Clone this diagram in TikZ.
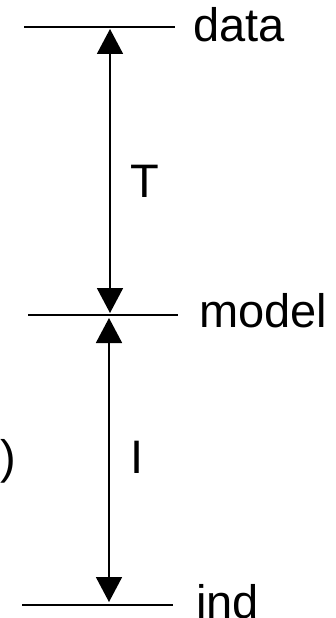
\documentclass[tikz,border=0pt]{standalone}
\usepackage{fontspec}
\setmainfont{Liberation Sans}
\usetikzlibrary{arrows.meta}
\begin{document}
\begin{tikzpicture}[x=1pt,y=-1pt,
  level/.style={line width=1.5pt},
  dbl/.style={line width=1.8pt,{Triangle[width=26pt,length=25pt]}-{Triangle[width=26pt,length=25pt]}},
  lbl/.style={font=\fontsize{47}{56}\selectfont,inner sep=0pt,anchor=base west}]
\useasboundingbox (0,0) rectangle (335,618);
% level lines
\coordinate (d1) at (24,27); \coordinate (d2) at (175,27);
\coordinate (m1) at (28,315); \coordinate (m2) at (178,315);
\coordinate (i1) at (22,605); \coordinate (i2) at (173,605);
\draw[level] (d1) -- (d2);
\draw[level] (m1) -- (m2);
\draw[level] (i1) -- (i2);
% arrows
\coordinate (ta) at (110,29); \coordinate (tb) at (110,313);
\coordinate (ia) at (109,318); \coordinate (ib) at (109,602);
\draw[dbl] (ta) -- (tb);
\draw[dbl] (ia) -- (ib);
% labels
\node[lbl] (data) at (193,42) {data};
\node[lbl] (model) at (199,327) {model};
\node[lbl] (ind) at (196,618) {ind};
\node[lbl] (T) at (130,197) {T};
\node[lbl] (I) at (130,473) {I};
\node[lbl,anchor=base east] (par) at (16,473) {)};
\end{tikzpicture}
\end{document}
